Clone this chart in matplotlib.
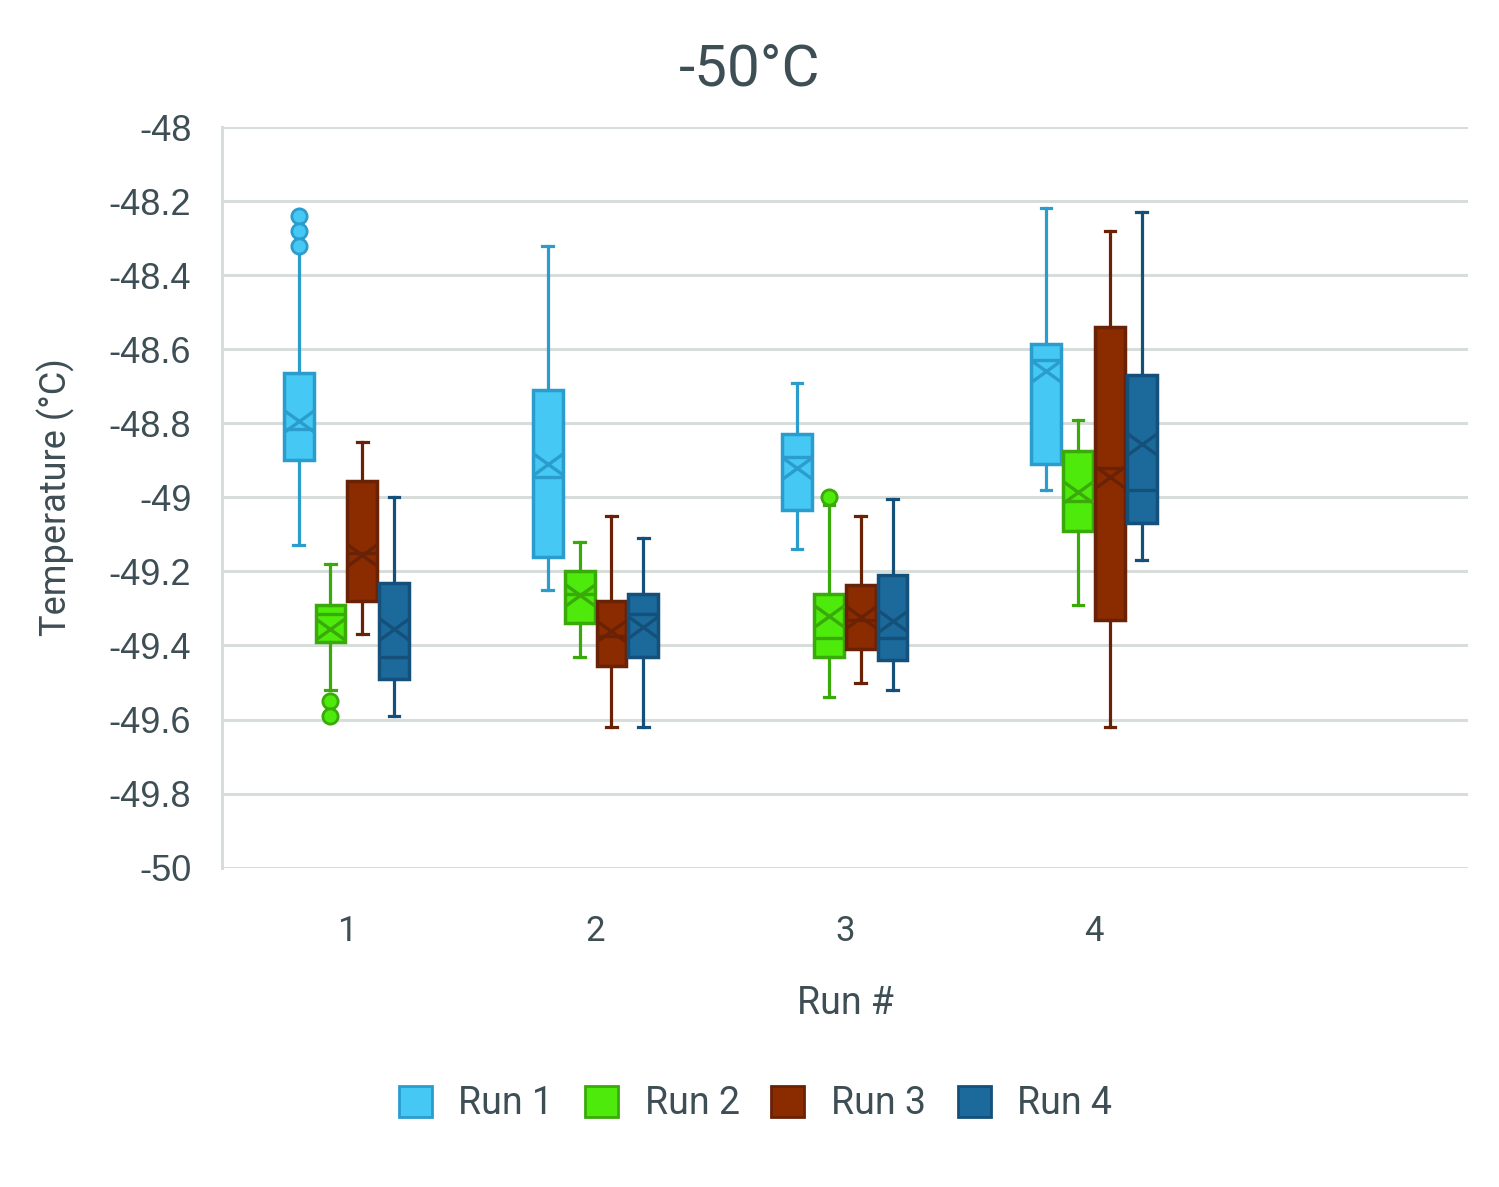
import matplotlib
matplotlib.use("Agg")
import matplotlib.pyplot as plt
from matplotlib.path import Path
from matplotlib.patches import Patch

# ---- data (deg C), one entry per run group 1..4 -----------------------------
groups = [1, 2, 3, 4]
series = ["Run 1", "Run 2", "Run 3", "Run 4"]

run1_whislo = [-49.13, -49.25, -49.14, -48.98]
run1_q1 = [-48.90, -49.16, -49.035, -48.91]
run1_med = [-48.815, -48.945, -48.89, -48.63]
run1_q3 = [-48.665, -48.71, -48.83, -48.585]
run1_whishi = [-48.33, -48.32, -48.69, -48.22]
run1_mean = [-48.795, -48.91, -48.92, -48.66]
run1_fliers = [[-48.24, -48.28, -48.32], [], [], []]

run2_whislo = [-49.52, -49.43, -49.54, -49.29]
run2_q1 = [-49.39, -49.34, -49.43, -49.09]
run2_med = [-49.315, -49.26, -49.38, -49.01]
run2_q3 = [-49.29, -49.20, -49.26, -48.876]
run2_whishi = [-49.18, -49.12, -49.02, -48.79]
run2_mean = [-49.355, -49.265, -49.32, -48.985]
run2_fliers = [[-49.55, -49.59], [], [-49.0], []]

run3_whislo = [-49.37, -49.62, -49.50, -49.62]
run3_q1 = [-49.28, -49.455, -49.41, -49.33]
run3_med = [-49.15, -49.375, -49.33, -48.92]
run3_q3 = [-48.955, -49.28, -49.238, -48.54]
run3_whishi = [-48.85, -49.05, -49.05, -48.28]
run3_mean = [-49.155, -49.36, -49.322, -48.945]
run3_fliers = [[], [], [], []]

run4_whislo = [-49.59, -49.62, -49.52, -49.17]
run4_q1 = [-49.49, -49.43, -49.44, -49.07]
run4_med = [-49.43, -49.315, -49.38, -48.98]
run4_q3 = [-49.23, -49.26, -49.21, -48.67]
run4_whishi = [-49.00, -49.11, -49.005, -48.23]
run4_mean = [-49.355, -49.35, -49.335, -48.855]
run4_fliers = [[], [], [], []]

fills = ["#45C8F4", "#4DEA0C", "#8A2B00", "#1B6A9B"]
edges = ["#2B9DCD", "#3AAA0B", "#6A2206", "#14507A"]
TEXT = "#3E4E55"
GRID = "#D6DDDA"

runs = [
    (run1_whislo, run1_q1, run1_med, run1_q3, run1_whishi, run1_mean, run1_fliers),
    (run2_whislo, run2_q1, run2_med, run2_q3, run2_whishi, run2_mean, run2_fliers),
    (run3_whislo, run3_q1, run3_med, run3_q3, run3_whishi, run3_mean, run3_fliers),
    (run4_whislo, run4_q1, run4_med, run4_q3, run4_whishi, run4_mean, run4_fliers),
]

NARROW = ["Roboto", "DejaVu Sans"]
plt.rcParams["font.family"] = ["Liberation Sans", "DejaVu Sans"]

# Excel-style mean marker: a flat X spanning the box
xmark = Path([(-1, -0.72), (1, 0.72), (-1, 0.72), (1, -0.72)],
             [Path.MOVETO, Path.LINETO, Path.MOVETO, Path.LINETO])

fig = plt.figure(figsize=(14.99, 11.87), dpi=100)
ax = fig.add_axes([0.148, 0.269, 0.831, 0.624])

step = 0.128
width = 0.12
for i, (lo, q1, med, q3, hi, mean, fl) in enumerate(runs):
    stats = []
    for g in range(len(groups)):
        stats.append({"whislo": lo[g], "q1": q1[g], "med": med[g], "q3": q3[g],
                      "whishi": hi[g], "mean": mean[g], "fliers": fl[g]})
    pos = [x + (i - 1.5) * step for x in groups]
    ec = edges[i]
    ax.bxp(stats, positions=pos, widths=width, patch_artist=True,
           showmeans=True, capwidths=0.042, manage_ticks=False,
           boxprops=dict(facecolor=fills[i], edgecolor=ec, linewidth=2.5),
           medianprops=dict(color=ec, linewidth=2.4),
           whiskerprops=dict(color=ec, linewidth=2.3),
           capprops=dict(color=ec, linewidth=2.3),
           meanprops=dict(marker=xmark, markersize=21, markeredgecolor=ec,
                          markerfacecolor="none", markeredgewidth=2.4),
           flierprops=dict(marker="o", markersize=11, markerfacecolor=fills[i],
                           markeredgecolor=ec, markeredgewidth=2.0))

ax.set_xlim(0.5, 5.5)
ax.set_ylim(-50, -48)
ax.set_yticks([-48 - 0.2 * k for k in range(11)])
ax.set_yticklabels([f"{-48 - 0.2 * k:g}" for k in range(11)])
ax.set_xticks(groups)
ax.set_xticklabels([str(g) for g in groups], family=NARROW)
ax.grid(True, axis="y", color=GRID, linewidth=2.2)
ax.set_axisbelow(True)
for s in ["top", "right", "bottom"]:
    ax.spines[s].set_visible(False)
ax.spines["left"].set_color(GRID)
ax.spines["left"].set_linewidth(2.2)
ax.tick_params(axis="both", length=0, colors=TEXT)
ax.tick_params(axis="y", labelsize=26, pad=22)
ax.tick_params(axis="x", labelsize=25, pad=34)

fig.text(0.5, 0.941, "-50°C", ha="center", va="center", fontsize=42,
         color=TEXT, family=["Roboto", "DejaVu Sans"])
fig.text(0.037, 0.581, "Temperature (°C)", rotation=90, ha="center",
         va="center", fontsize=26, color=TEXT, family=NARROW)
fig.text(0.564, 0.155, "Run #", ha="center", va="center", fontsize=27,
         color=TEXT, family=NARROW)

handles = [Patch(facecolor=fills[i], edgecolor=edges[i], linewidth=2.0)
           for i in range(len(series))]
fig.legend(handles, series, loc="center", bbox_to_anchor=(0.504, 0.070),
           ncol=4, frameon=False, handlelength=0.88, handleheight=0.88,
           handletextpad=0.7, columnspacing=0.85,
           prop={"family": NARROW, "size": 27}, labelcolor=TEXT)

fig.savefig("out.png", dpi=100)
